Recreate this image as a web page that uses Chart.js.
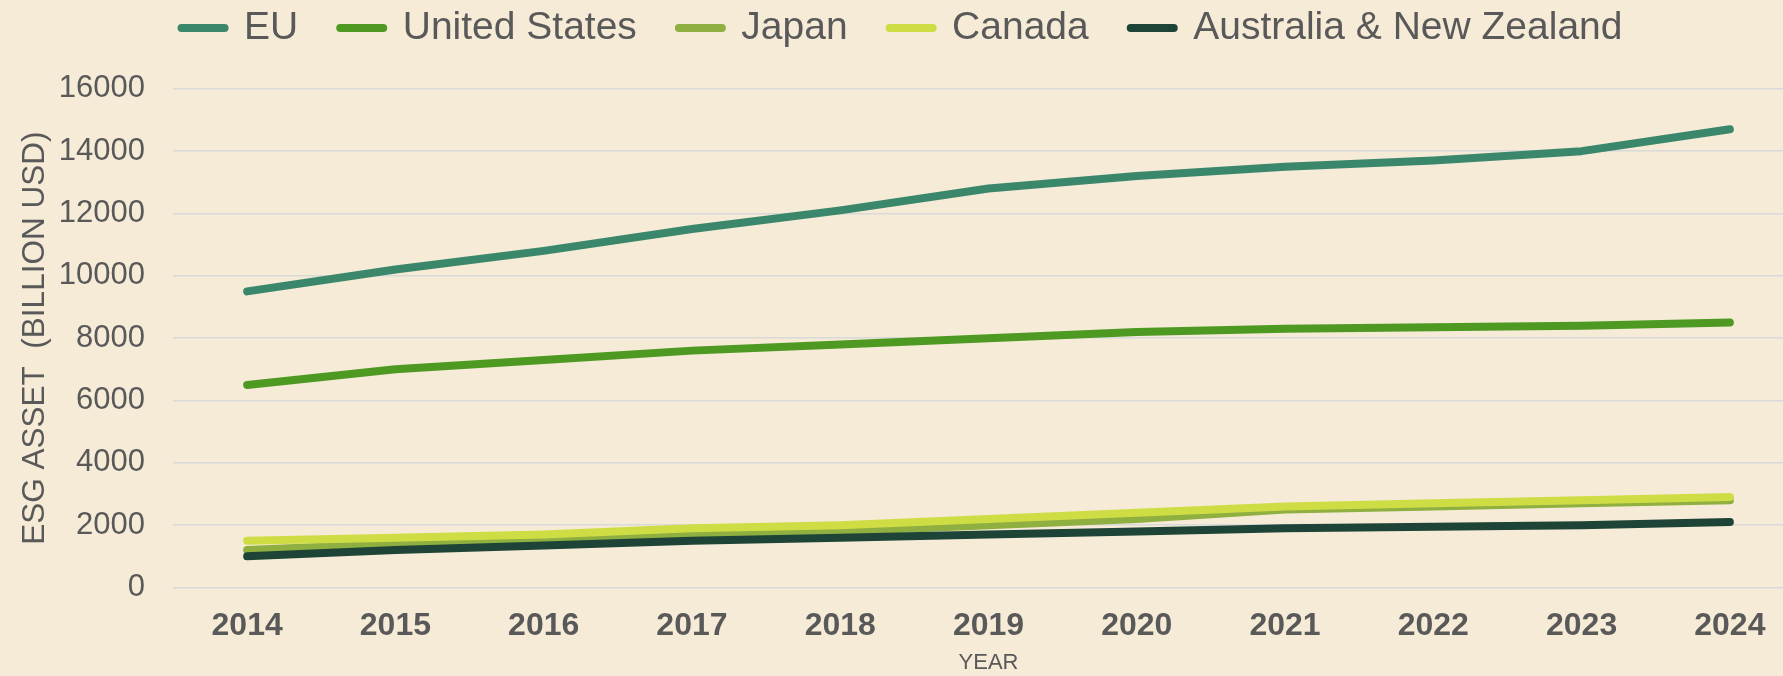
<!DOCTYPE html>
<html>
<head>
<meta charset="utf-8">
<script src="https://cdn.jsdelivr.net/npm/chart.js@4/dist/chart.umd.min.js"></script>
<style>
  html, body { margin: 0; padding: 0; background: #F5EBD6; overflow: hidden; }
  #wrap { width: 1830px; height: 676px; position: relative; }
</style>
</head>
<body>
<div id="wrap"><canvas id="c"></canvas></div>
<script>
// ---- data ----
const years = ['2014','2015','2016','2017','2018','2019','2020','2021','2022','2023','2024'];
const euValues        = [9500, 10200, 10800, 11500, 12100, 12800, 13200, 13500, 13700, 14000, 14700];
const usValues        = [6500, 7000, 7300, 7600, 7800, 8000, 8200, 8300, 8350, 8400, 8500];
const japanValues     = [1200, 1400, 1550, 1700, 1800, 2000, 2200, 2500, 2600, 2700, 2800];
const canadaValues    = [1500, 1600, 1700, 1900, 2000, 2200, 2400, 2600, 2700, 2800, 2900];
const anzValues       = [1000, 1200, 1350, 1500, 1600, 1700, 1800, 1900, 1950, 2000, 2100];
const seriesNames     = ['EU', 'United States', 'Japan', 'Canada', 'Australia & New Zealand'];
const yTickValues     = [0, 2000, 4000, 6000, 8000, 10000, 12000, 14000, 16000];
const xTitle = 'YEAR';
const yTitle = 'ESG ASSET  (BILLION USD)';

// ---- styles ----
const colors = ['#3A876C', '#4D9922', '#8FAF40', '#CFDD45', '#1D4436'];
const drawOrder = [4, 3, 2, 1, 0];
const allValues = [euValues, usValues, japanValues, canadaValues, anzValues];

Chart.defaults.color = '#595959';
Chart.defaults.font.family = "'Liberation Sans', Arial, sans-serif";

const datasets = seriesNames.map((name, i) => ({
  label: name,
  data: allValues[i],
  borderColor: colors[i],
  backgroundColor: colors[i],
  borderWidth: 8,
  borderCapStyle: 'round',
  borderJoinStyle: 'round',
  pointRadius: 0,
  pointHoverRadius: 0,
  tension: 0,
  fill: false,
  order: drawOrder[i]
}));

new Chart(document.getElementById('c'), {
  type: 'line',
  data: { labels: years, datasets },
  options: {
    responsive: true,
    maintainAspectRatio: false,
    animation: false,
    layout: { padding: { top: -33.4, right: 26, left: 0, bottom: 0 } },
    plugins: {
      tooltip: { enabled: false },
      legend: {
        position: 'top',
        weight: 3000,
        labels: {
          usePointStyle: true,
          pointStyle: 'line',
          pointStyleWidth: 43,
          padding: 42,
          color: '#595959',
          font: { size: 39 },
          sort: (a, b) => a.datasetIndex - b.datasetIndex,
          generateLabels: (chart) => Chart.defaults.plugins.legend.labels.generateLabels(chart).map(l => ({
            ...l,
            lineCap: 'round',
            lineWidth: 8,
            strokeStyle: colors[l.datasetIndex],
            fillStyle: colors[l.datasetIndex]
          }))
        }
      },
      subtitle: {
        display: true,
        text: '',
        font: { size: 10 },
        padding: { top: 0, bottom: 19.2 }
      }
    },
    scales: {
      x: {
        offset: true,
        grid: { display: false },
        border: { display: false },
        ticks: {
          color: '#595959',
          font: { size: 32, weight: 'bold', family: "'Liberation Sans Narrow', 'Liberation Sans', Arial, sans-serif" },
          padding: 11,
          maxRotation: 0,
          autoSkip: false
        },
        title: {
          display: true,
          text: xTitle,
          color: '#595959',
          font: { size: 22 },
          padding: { top: 0, bottom: 0 }
        },
        afterFit: (scale) => { scale.height = 88.5; }
      },
      y: {
        min: yTickValues[0],
        max: yTickValues[yTickValues.length - 1],
        afterBuildTicks: (scale) => { scale.ticks = yTickValues.map(v => ({ value: v })); },
        grid: { color: '#D9D9D9', lineWidth: 1.5, drawTicks: false },
        border: { display: false },
        ticks: {
          color: '#595959',
          font: { size: 31 },
          padding: 28,
          callback: (v) => String(v)
        },
        title: {
          display: true,
          text: yTitle,
          color: '#595959',
          font: { size: 31.5 },
          padding: { top: 16, bottom: 0 }
        },
        afterFit: (scale) => { scale.width = 173; }
      }
    }
  }
});
</script>
</body>
</html>
